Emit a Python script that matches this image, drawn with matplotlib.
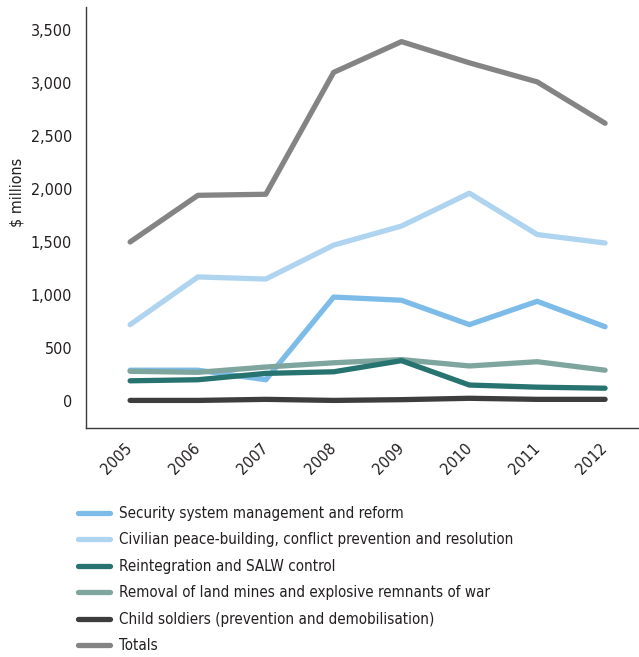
import matplotlib
matplotlib.use("Agg")
import matplotlib.pyplot as plt
from matplotlib import font_manager

years = [2005, 2006, 2007, 2008, 2009, 2010, 2011, 2012]
security = [290, 290, 200, 980, 950, 720, 940, 700]
civilian = [720, 1170, 1150, 1470, 1650, 1960, 1570, 1490]
reintegration = [190, 200, 260, 275, 380, 150, 130, 120]
removal = [280, 270, 320, 360, 390, 330, 370, 290]
child = [5, 5, 15, 5, 12, 25, 15, 15]
totals = [1500, 1940, 1950, 3100, 3390, 3190, 3010, 2620]

labels = [
    "Security system management and reform",
    "Civilian peace-building, conflict prevention and resolution",
    "Reintegration and SALW control",
    "Removal of land mines and explosive remnants of war",
    "Child soldiers (prevention and demobilisation)",
    "Totals",
]
colors = ["#7dbce8", "#aed4f0", "#277370", "#7fa59f", "#3d3d3d", "#848484"]
series = [security, civilian, reintegration, removal, child, totals]
yticks = [0, 500, 1000, 1500, 2000, 2500, 3000, 3500]

# look for a condensed face
cond = None
for f in font_manager.fontManager.ttflist:
    st = str(f.stretch).lower()
    if ("condensed" in st or "narrow" in f.name.lower() or "condensed" in f.name.lower()) \
            and f.style == "normal" and f.weight in (400, "normal", "regular"):
        cond = f
        break
if cond is not None:
    fam = cond.name
    stretch = cond.stretch
    fs_tick = 11.5
    fs_leg = 10.9
else:
    fam = "Roboto"
    stretch = "normal"
    fs_tick = 10.5
    fs_leg = 11.0
plt.rcParams["font.family"] = [fam, "DejaVu Sans"]
plt.rcParams["font.stretch"] = stretch

fig = plt.figure(figsize=(6.39, 6.57), dpi=100)
ax = fig.add_axes([0.1346, 0.3486, 0.8654, 0.6408])

order = [5, 1, 0, 3, 2, 4]
handles = {}
for i in order:
    (h,) = ax.plot(years, series[i], color=colors[i], lw=3.8,
                   solid_capstyle="round", solid_joinstyle="round", label=labels[i])
    handles[i] = h

ax.set_xlim(2004.35, 2012.5)
ax.set_ylim(-255, 3717)
ax.set_yticks(yticks)
ax.set_yticklabels([f"{v:,}" for v in yticks], fontsize=fs_tick, color="#231f20")
ax.set_xticks(years)
ax.set_xticklabels([str(y) for y in years], rotation=45, ha="right", va="center",
                   rotation_mode="anchor", fontsize=fs_tick, color="#231f20")
ax.tick_params(axis="both", length=0)
ax.tick_params(axis="y", pad=10)
ax.tick_params(axis="x", pad=13)
for s in ["top", "right"]:
    ax.spines[s].set_visible(False)
for s in ["left", "bottom"]:
    ax.spines[s].set_color("#3a3a3a")
    ax.spines[s].set_linewidth(1.0)
ax.set_ylabel("\\$ millions", fontsize=fs_tick, color="#231f20")
ax.yaxis.set_label_coords(-0.112, 0.56)

leg = fig.legend([handles[i] for i in range(6)], labels, loc="upper left",
                 bbox_to_anchor=(0.122, 0.23), frameon=False, fontsize=fs_leg,
                 handlelength=2.1, handletextpad=0.6, labelspacing=0.76,
                 borderaxespad=0, borderpad=0)
for t in leg.get_texts():
    t.set_color("#231f20")

fig.savefig("out.png", dpi=100)
